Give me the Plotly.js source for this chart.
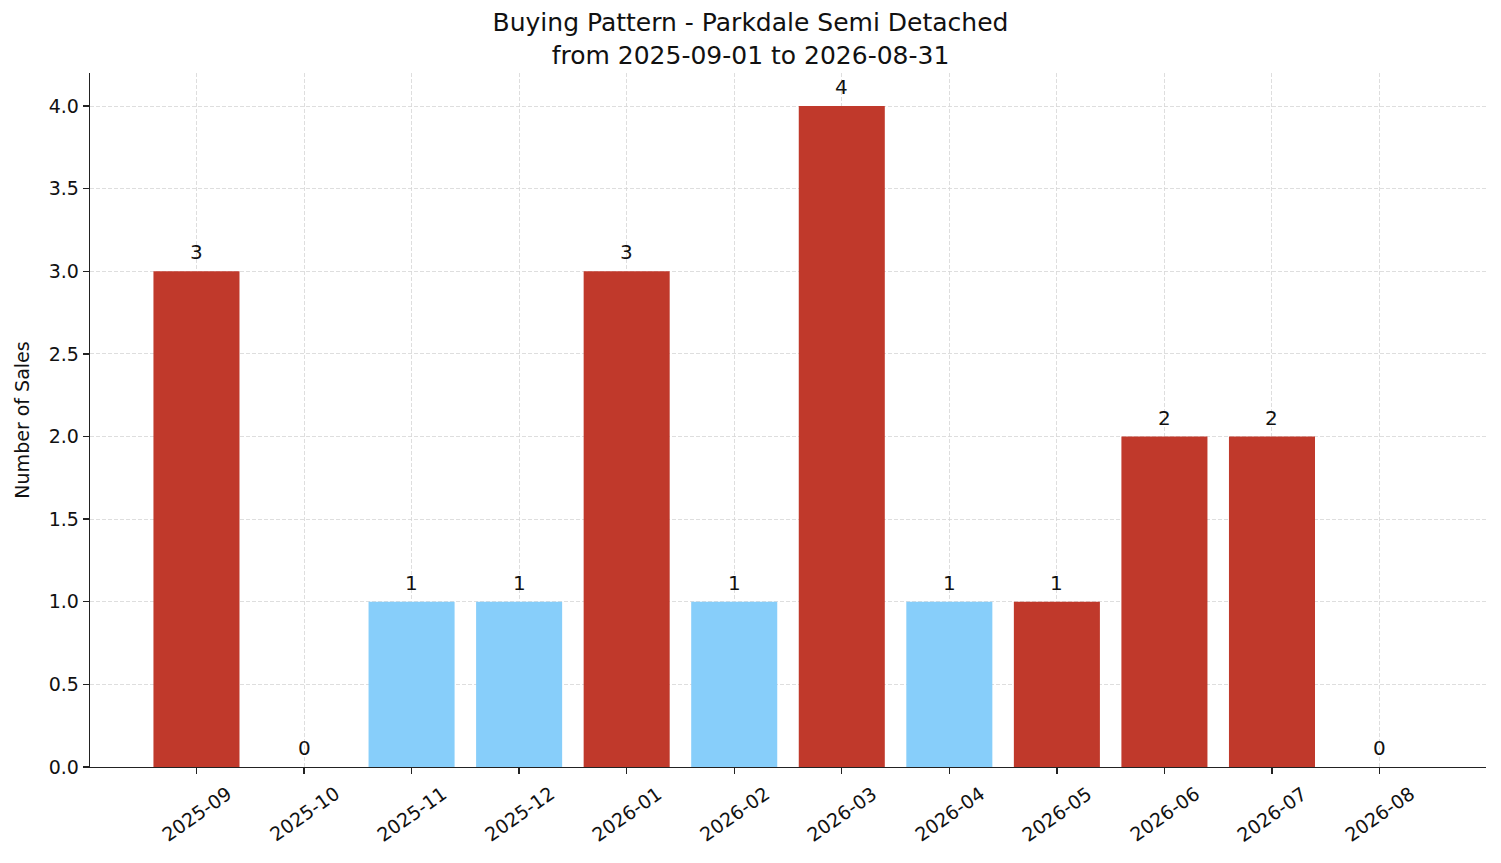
<!DOCTYPE html>
<html>
<head>
<meta charset="utf-8">
<script src="https://cdn.plot.ly/plotly-3.0.1.min.js"></script>
<style>
  html, body { margin: 0; padding: 0; background: #fff; }
  #chart { width: 1501px; height: 863px; }
</style>
</head>
<body>
<div id="chart"></div>
<script>
/* ── data ── */
const MONTHS = ['2025-09', '2025-10', '2025-11', '2025-12', '2026-01', '2026-02',
                '2026-03', '2026-04', '2026-05', '2026-06', '2026-07', '2026-08'];
const SALES  = [3, 0, 1, 1, 3, 1, 4, 1, 1, 2, 2, 0];
const BAR_COLORS = ['#c0392b', '#c0392b', '#87cefa', '#87cefa', '#c0392b', '#87cefa',
                    '#c0392b', '#87cefa', '#c0392b', '#c0392b', '#c0392b', '#c0392b'];
const Y_TICKS = [0, 0.5, 1, 1.5, 2, 2.5, 3, 3.5, 4];

const FONT = 'DejaVu Sans, sans-serif';

const AXIS_BASE = {
    showline: true,
    linecolor: '#222',
    linewidth: 1.3,
    ticks: 'outside',
    ticklen: 6,
    tickwidth: 1.3,
    tickcolor: '#222',
    tickfont: { size: 19, color: '#111', family: FONT },
    showgrid: true,
    gridcolor: '#d6d6d6',
    griddash: '4px,2px',
    gridwidth: 0.8,
    zeroline: false
};

/* x labels as centred rotated annotations (plotly anchors rotated tick labels at their end) */
const xLabels = MONTHS.map((m, i) => ({
    x: i, xref: 'x',
    y: 0, yref: 'paper',
    yshift: -47,
    xanchor: 'center', yanchor: 'middle',
    text: m,
    textangle: -35,
    showarrow: false,
    font: { size: 19, color: '#111', family: FONT }
}));

/* value labels above each bar */
const valueLabels = SALES.map((v, i) => ({
    x: i, xref: 'x',
    y: v, yref: 'y',
    yshift: 5,
    xanchor: 'center', yanchor: 'bottom',
    text: String(v),
    showarrow: false,
    font: { size: 20, color: '#111', family: FONT }
}));

Plotly.newPlot('chart', [{
    x: MONTHS.map((m, i) => i),
    y: SALES,
    type: 'bar',
    width: 0.8,
    marker: { color: BAR_COLORS },
    hovertemplate: '%{y}<extra></extra>'
}], {
    width: 1501,
    height: 863,
    paper_bgcolor: '#fff',
    plot_bgcolor: '#fff',
    font: { family: FONT, color: '#111' },
    margin: { t: 73, b: 96, l: 90, r: 15 },
    showlegend: false,
    title: {
        text: 'Buying Pattern - Parkdale Semi Detached<br>from 2025-09-01 to 2026-08-31',
        x: 0.5, xanchor: 'center',
        yref: 'paper', y: 1, yanchor: 'bottom',
        pad: { b: 42 },
        font: { size: 25, color: '#111', family: FONT }
    },
    xaxis: {
        ...AXIS_BASE,
        range: [-0.99, 11.99],
        tickmode: 'array',
        tickvals: MONTHS.map((m, i) => i),
        showticklabels: false
    },
    yaxis: {
        ...AXIS_BASE,
        range: [0, 4.2],
        tickmode: 'array',
        tickvals: Y_TICKS,
        ticktext: Y_TICKS.map(v => v.toFixed(1)),
        title: { text: 'Number of Sales', font: { size: 19, color: '#111', family: FONT }, standoff: 14 }
    },
    annotations: [...xLabels, ...valueLabels]
}, { displayModeBar: false, staticPlot: true });
</script>
</body>
</html>
